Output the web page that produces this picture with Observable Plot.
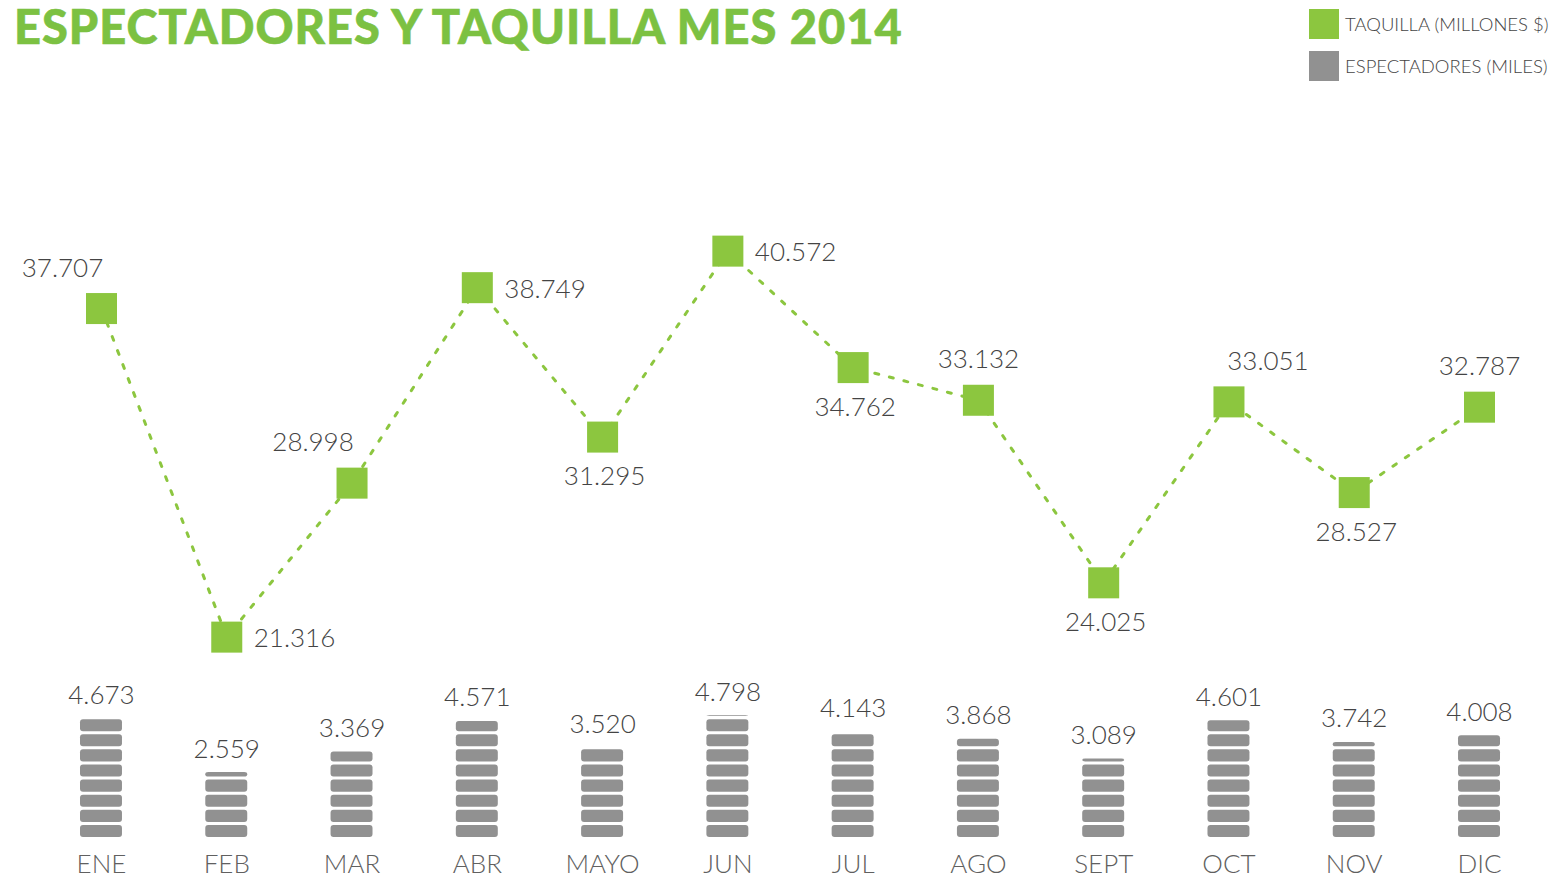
<!DOCTYPE html>
<html><head><meta charset="utf-8">
<script src="https://cdn.jsdelivr.net/npm/d3@7"></script>
<script src="https://cdn.jsdelivr.net/npm/@observablehq/plot@0.6"></script>
<style>
body{margin:0;background:#fff;width:1555px;height:879px;position:relative;overflow:hidden;font-family:Lato,"Open Sans",sans-serif;}
#title{position:absolute;left:14px;top:-2px;font-family:Lato,sans-serif;font-weight:900;font-size:47px;color:#7cc142;white-space:nowrap;letter-spacing:1px;-webkit-text-stroke:0.6px #7cc142;}
#legend{position:absolute;left:1309px;top:9px;}
.item{display:flex;align-items:center;height:30px;margin-bottom:12px;}
.sw{width:30px;height:30px;margin-right:6px;}
.lt{font-size:18.5px;font-weight:300;color:#444;white-space:nowrap;}
#topChart,#bottomChart{position:absolute;left:0;}
#topChart{top:0}
#bottomChart{top:660px}
</style></head><body>
<div id="title">ESPECTADORES Y TAQUILLA MES 2014</div>
<div id="legend"></div>
<div id="topChart"></div><div id="bottomChart"></div>
<script>
const months = ["ENE","FEB","MAR","ABR","MAYO","JUN","JUL","AGO","SEPT","OCT","NOV","DIC"];
const taquilla = [37.707, 21.316, 28.998, 38.749, 31.295, 40.572, 34.762, 33.132, 24.025, 33.051, 28.527, 32.787];
const espectadores = [4.673, 2.559, 3.369, 4.571, 3.520, 4.798, 4.143, 3.868, 3.089, 4.601, 3.742, 4.008];
const taquillaLabelSide = ["nw","e","nw","e","s","e","s","n","s","ne","s","n"];
const legendItems = [["TAQUILLA (MILLONES $)","#8cc63f"],["ESPECTADORES (MILES)","#919191"]];

const green = "#8cc63f", grey = "#919191", textColor = "#444";
const fmt = d3.format(".3f");

const legend = document.getElementById("legend");
for (const [label, color] of legendItems) {
  const it = document.createElement("div"); it.className = "item";
  it.innerHTML = `<div class="sw" style="background:${color}"></div><div class="lt">${label}</div>`;
  legend.appendChild(it);
}

const data = months.map((m, i) => ({month: m, value: taquilla[i], side: taquillaLabelSide[i]}));
const bars = months.map((m, i) => ({month: m, value: espectadores[i]}));

// split each bar into stacked stripes (visual decomposition of the value)
const stripeStep = 0.595, stripeGap = 0.12;
const stripes = [];
bars.forEach(d => {
  for (let y = 0; y < d.value - 1e-9; y += stripeStep) {
    stripes.push({month: d.month, y1: y, y2: Math.min(y + stripeStep - stripeGap, d.value)});
  }
});

const xOpts = {type: "band", domain: months, paddingInner: 0.665, paddingOuter: 0.3325, round: false, axis: null};
const common = {width: 1555, marginLeft: 38.35, marginRight: 13.35,
  style: {background: "transparent", fontFamily: "Lato, 'Open Sans', sans-serif", fontWeight: 300, overflow: "visible"}};

const sideOpts = {
  nw: {dx: -39, dy: -40, textAnchor: "middle"},
  ne: {dx: 39, dy: -40, textAnchor: "middle"},
  n: {dx: 0, dy: -41, textAnchor: "middle"},
  s: {dx: 2, dy: 40, textAnchor: "middle"},
  e: {dx: 27, dy: 2, textAnchor: "start"}
};
const labelMarks = Object.entries(sideOpts).map(([k, o]) =>
  Plot.text(data.filter(d => d.side === k), {x: "month", y: "value", text: d => fmt(d.value),
    fontSize: 26, fontWeight: 300, fill: textColor, lineAnchor: "middle", ...o}));

const topPlot = Plot.plot({...common, height: 680, marginTop: 222, marginBottom: 17,
  x: xOpts, y: {domain: [20, 42], axis: null},
  marks: [
    Plot.line(data, {x: "month", y: "value", stroke: green, strokeWidth: 3, strokeDasharray: "4,11"}),
    Plot.dot(data, {x: "month", y: "value", symbol: "square", r: 17.5, fill: green}),
    ...labelMarks
  ]});
document.getElementById("topChart").appendChild(topPlot);

const bottomPlot = Plot.plot({...common, height: 219, marginTop: 50, marginBottom: 42,
  x: xOpts, y: {domain: [0, 5], axis: null},
  marks: [
    Plot.barY(stripes, {x: "month", y1: "y1", y2: "y2", fill: grey, rx: 3}),
    Plot.text(bars, {x: "month", y: "value", text: d => fmt(d.value), fontSize: 26, fontWeight: 300, fill: textColor, lineAnchor: "bottom", dy: -15}),
    Plot.axisX({tickSize: 0, tickPadding: 17, fontSize: 26, fontWeight: 300, fill: "#606060", label: null})
  ]});
document.getElementById("bottomChart").appendChild(bottomPlot);
</script>
</body></html>
